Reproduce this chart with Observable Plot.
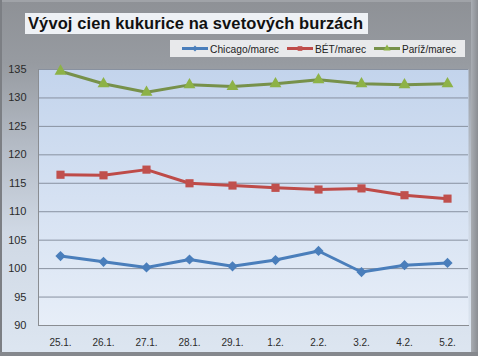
<!DOCTYPE html>
<html><head><meta charset="utf-8">
<script src="https://cdn.jsdelivr.net/npm/d3@7"></script>
<script src="https://cdn.jsdelivr.net/npm/@observablehq/plot@0.6"></script>
<style>
html,body{margin:0;padding:0;}
#wrap{position:relative;width:478px;height:356px;overflow:hidden;
 background:linear-gradient(to bottom,#8e9196 0%,#979ba1 18%,#b3bac4 40%,#cfd8e4 65%,#dde6f1 100%);
 font-family:"Liberation Sans",Arial,sans-serif;}
#edgeL{position:absolute;left:0;top:0;width:2px;height:356px;background:#7c7f84;}
#edgeR{position:absolute;left:471px;top:0;width:7px;height:356px;background:linear-gradient(to right,#a9adb3,#8a8d92);}
#edgeB{position:absolute;left:0;top:352px;width:478px;height:4px;background:#85888d;}
#edgeT{position:absolute;left:0;top:0;width:478px;height:2px;background:#a0a3a8;}
#title{position:absolute;left:25px;top:13px;width:343px;height:21px;background:#eef1f5;
 font-weight:bold;font-size:16.5px;color:#111;line-height:21px;padding-left:3px;box-sizing:border-box;white-space:nowrap;letter-spacing:0.1px;}
#legend{position:absolute;left:170px;top:40px;width:295px;height:17px;background:#e8e9eb;}
#legend svg{position:absolute;left:0;top:0;}
#chart{position:absolute;left:0;top:0;}
</style></head>
<body>
<div id="wrap">
 <div id="edgeT"></div>
 <div id="chart"></div>
 <div id="title">Vývoj cien kukurice na svetových burzách</div>
 <div id="legend"></div>
 <div id="edgeL"></div><div id="edgeR"></div><div id="edgeB"></div>
</div>
<script>
const dates = ["25.1.","26.1.","27.1.","28.1.","29.1.","1.2.","2.2.","3.2.","4.2.","5.2."];
const chicago = [102.2,101.2,100.2,101.6,100.4,101.5,103.1,99.4,100.6,101.0];
const bet = [116.5,116.4,117.4,115.0,114.6,114.2,113.9,114.1,112.9,112.3];
const pariz = [134.7,132.5,131.0,132.3,132.0,132.5,133.2,132.5,132.3,132.5];
const seriesNames = ["Chicago/marec","BÉT/marec","Paríž/marec"];
const yTicks = [90,95,100,105,110,115,120,125,130,135];

const lineColors = ["#4a7ebb","#be4b48","#77914a"];
const dotColors = ["#4a7ebb","#c0504d","#8db247"];
const symbols = ["diamond2","square","triangle"];
const sizes = [4.6,4.6,4.4];

const allSeries = [chicago, bet, pariz];
const data = [];
allSeries.forEach((vals, s) => vals.forEach((v, i) => data.push({series: seriesNames[s], date: dates[i], value: v, s})));

const marks = [
  Plot.frame({fill: "url(#plotbg)", stroke: "none"}),
  Plot.gridY(yTicks.slice(1), {stroke: "#8891a0", strokeOpacity: 1, strokeWidth: 1}),
  Plot.frame({anchor: "left", stroke: "#8a8d92", strokeWidth: 1}),
  Plot.frame({anchor: "bottom", stroke: "#8a8d92", strokeWidth: 1}),
];
allSeries.forEach((vals, s) => {
  const d = data.filter(r => r.s === s);
  marks.push(Plot.line(d, {x: "date", y: "value", stroke: lineColors[s], strokeWidth: 3, strokeLinejoin: "round"}));
  marks.push(Plot.dot(d, {x: "date", y: "value", symbol: symbols[s], fill: dotColors[s], stroke: "none", r: sizes[s]}));
});
marks.push(Plot.axisY(yTicks, {tickSize: 0, tickPadding: 12, fontSize: 11, fill: "#2b2b2b", fontWeight: 500}));
marks.push(Plot.axisX({tickSize: 0, tickPadding: 13, fontSize: 10, fill: "#2b2b2b", fontWeight: 500}));

const chart = Plot.plot({
  width: 478, height: 356,
  marginLeft: 38, marginRight: 10, marginTop: 69, marginBottom: 31,
  style: {background: "transparent", fontFamily: "'Liberation Sans', Arial, sans-serif"},
  x: {type: "point", domain: dates, padding: 0.5, label: null},
  y: {domain: [90, 135], label: null},
  marks
});
const defs = d3.select(chart).insert("defs", ":first-child");
const g = defs.append("linearGradient").attr("id","plotbg").attr("x1",0).attr("y1",0).attr("x2",0).attr("y2",1);
g.append("stop").attr("offset","0%").attr("stop-color","#c3d4ec");
g.append("stop").attr("offset","100%").attr("stop-color","#e7eef8");
document.getElementById("chart").appendChild(chart);

// legend
const leg = d3.select("#legend").append("svg").attr("width",295).attr("height",17);
const legX = [12, 117, 204];
const legW = [69, 51, 54];
seriesNames.forEach((n, s) => {
  const x0 = legX[s];
  leg.append("line").attr("x1",x0).attr("x2",x0+26).attr("y1",8.5).attr("y2",8.5).attr("stroke",lineColors[s]).attr("stroke-width",3);
  leg.append("path").attr("d", d3.symbol(s===0?d3.symbolDiamond2:s===1?d3.symbolSquare:d3.symbolTriangle, 22)()).attr("transform",`translate(${x0+13},8.5)`).attr("fill",dotColors[s]);
  leg.append("text").attr("x",x0+28).attr("y",12.5).attr("font-size",10.5).attr("fill","#222")
    .attr("textLength", legW[s]).attr("lengthAdjust","spacingAndGlyphs")
    .attr("font-family","'Liberation Sans', Arial, sans-serif").text(n);
});
</script>
</body></html>
